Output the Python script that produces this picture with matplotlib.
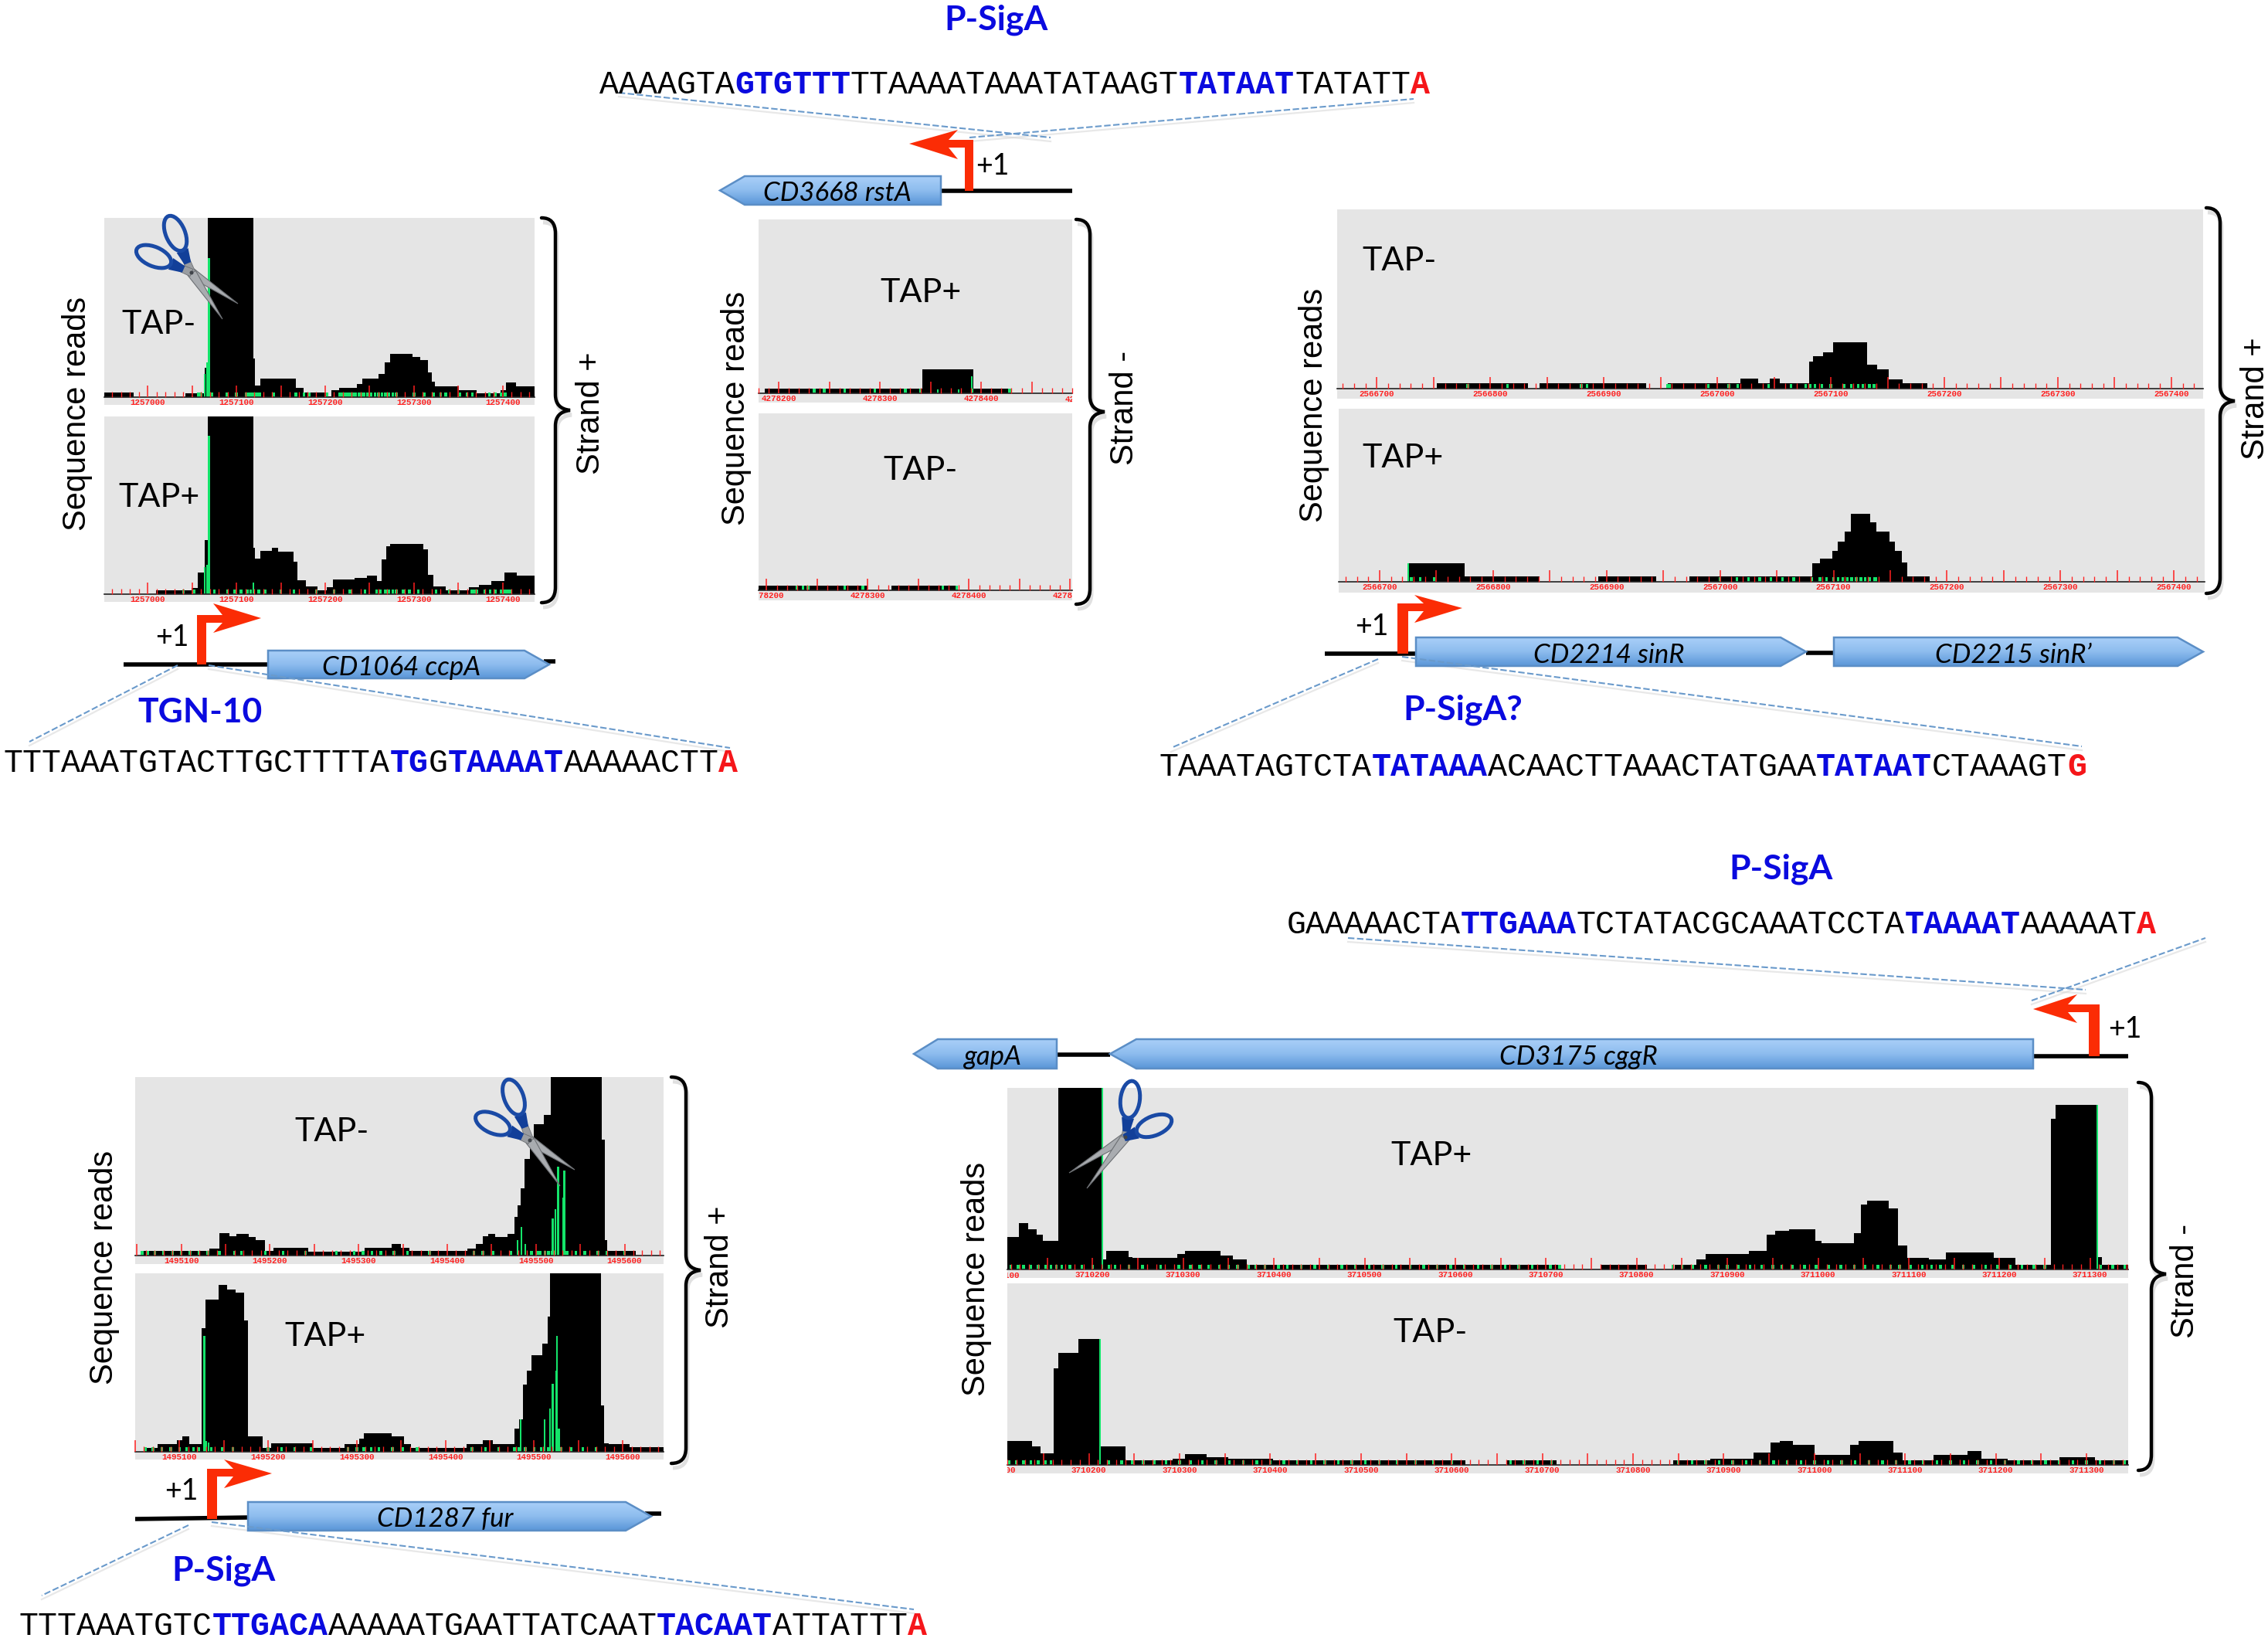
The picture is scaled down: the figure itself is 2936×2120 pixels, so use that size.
import numpy as np
import matplotlib
matplotlib.use("Agg")
import matplotlib.pyplot as plt
from matplotlib.patches import Polygon, Ellipse, PathPatch, Rectangle
from matplotlib.path import Path
from matplotlib.colors import LinearSegmentedColormap
from matplotlib.ticker import MultipleLocator, FuncFormatter
from matplotlib.transforms import Bbox

W, H = 2936, 2120
CAL = ["Lato", "DejaVu Sans"]
HEL = ["Liberation Sans", "DejaVu Sans"]
MONO = ["Liberation Mono", "DejaVu Sans Mono"]
BLUE = "#0a0adf"
RED = "#f5161a"
ARROW = "#fb2c05"
GREY = "#e5e5e5"
GREEN = "#14e46a"

# ---------- read profiles: (segment end in bp from the panel origin, reads) ----------
A_BASE = 1257000
A_XLIM = (-49, 436)
A1_PROFILE = [(-16,6),(42,0),(64,5),(68,38),(119,600),(121,50),(127,15),(167,24),(176,12),(202,6),(207,1),
              (216,9),(236,12),(242,17),(260,24),(267,30),(273,45),(298,56),(307,52),(316,48),(320,32),
              (324,20),(351,14),(371,9),(398,5),(404,9),(415,19),(436,14)]
A2_PROFILE = [(9,0),(49,5),(56,8),(64,28),(68,70),(119,600),(121,60),(127,46),(140,56),(147,60),(164,55),
              (169,42),(178,18),(191,10),(202,5),(209,9),(233,19),(247,21),(258,24),(264,17),(269,45),
              (273,62),(311,65),(316,58),(322,25),(336,10),(362,5),(373,9),(387,12),(402,17),(416,28),(436,24)]
A1_GREEN = [(64,30),(67,45),(69,180)]
A2_GREEN = [(64,35),(67,38),(69,205),(119,15)]
A1_LOW = [57,60,72,89,100,111,114,117,120,123,126,142,167,176,182,202,216,219,222,225,228,231,234,238,241,
          244,248,252,256,260,264,268,272,276,280,300,312,322,330,336,352,360,366,385,392,398,403]
A2_LOW = [40,52,75,90,98,105,112,116,125,132,150,165,190,210,228,245,258,262,268,272,276,280,288,295,305,
          325,340,350,365,368,371,380,386,392,398,402,405,408]

B_BASE_1 = 4278200
B1_XLIM = (-20, 290)
B1_PROFILE = [(-14,0),(142,6),(192,31),(228,6),(290,0)]
B1_GREEN = [(157,5),(178,5),(191,22)]
B1_LOW = [35,45,65,95,125,140,191,228]
B2_XLIM = (-8, 302)
B2_PROFILE = [(100,6),(123,0),(189,6),(302,0)]
B2_GREEN = []
B2_LOW = [30,36,41,77,95,174,188]

C_BASE = 2566700
C1_XLIM = (-35, 728)
C1_PROFILE = [(53,0),(133,7),(143,0),(237,7),(256,0),(320,7),(336,13),(346,7),(355,13),(381,7),(384,35),
              (393,42),(402,47),(432,60),(441,31),(451,25),(463,12),(485,7),(728,0)]
C1_GREEN = []
C1_LOW = [80,115,180,185,256,258,292,310,318,345,365,378,382,386,392,400,412,418,424,428,434,438]
C2_XLIM = (-36, 727)
C2_PROFILE = [(25,0),(75,24),(141,7),(193,0),(244,7),(273,0),(381,7),(388,24),(399,30),(404,40),(410,52),
              (415,65),(432,88),(438,77),(449,65),(454,52),(460,40),(465,25),(485,7),(727,0)]
C2_GREEN = [(25,24)]
C2_LOW = [28,36,48,300,315,325,335,345,355,365,381,388,394,400,404,408,412,416,420,424,428,432,436,437]

D_BASE = 1495100
D1_XLIM = (-52, 544)
D1_PROFILE = [(-46,0),(32,6),(43,9),(54,29),(62,25),(76,28),(84,24),(94,20),(104,6),(143,10),(207,5),(237,10),
              (248,15),(257,10),(323,6),(332,9),(340,15),(346,25),(354,28),(368,24),(376,28),(379,50),
              (383,65),(387,87),(393,125),(398,150),(409,170),(417,182),(474,600),(478,150),(480,20),
              (513,6),(544,0)]
D1_GREEN = [(379,20),(384,37),(388,15),(419,48),(422,60),(425,115),(431,75),(432,110)]
D1_LOW = [-44,-38,-30,-20,-10,0,10,20,30,43,60,68,95,115,140,175,195,205,215,225,240,255,280,330,340,352,
          372,395,402,405,410,414,418,435,445,455,470,480,500]
D2_XLIM = (-50, 546)
D2_PROFILE = [(-39,0),(-25,5),(-3,10),(3,15),(11,20),(25,10),(29,160),(44,197),(54,216),(63,210),(73,206),
              (77,170),(94,20),(103,5),(150,11),(186,5),(203,10),(208,17),(239,24),(253,20),(261,10),
              (324,5),(342,10),(353,15),(378,10),(383,30),(387,42),(392,87),(397,105),(409,125),(415,140),
              (418,175),(475,600),(479,60),(484,11),(508,10),(546,6)]
D2_GREEN = [(28,150),(30,14),(33,12),(385,42),(412,42),(418,56),(421,88),(425,105),(426,150),(428,30)]
D2_LOW = [-38,-30,-20,-10,0,8,16,22,36,48,60,100,115,130,148,190,200,208,216,225,240,252,268,330,345,360,
          378,383,390,400,408,416,430,442,455,470]

E_BASE = 3710200
E1_XLIM = (-94, 1142)
E1_PROFILE = [(-81,42),(-71,60),(-62,52),(-55,45),(-38,37),(11,600),(15,13),(40,24),(44,16),(93,15),(102,20),
              (141,24),(155,18),(170,13),(184,6),(517,6),(560,0),(611,6),(642,0),(666,6),(676,13),(724,20),
              (743,24),(753,45),(768,50),(797,52),(804,37),(840,34),(847,47),(854,84),(878,89),(888,79),
              (898,31),(922,15),(941,13),(994,22),(1018,15),(1057,6),(1062,195),(1107,213),(1113,16),(1142,6)]
E1_GREEN = [(11,235),(1108,213)]
E2_XLIM = (-90, 1146)
E2_PROFILE = [(-63,31),(-53,24),(-39,15),(-34,125),(-12,145),(12,163),(40,24),(92,6),(106,8),(130,14),(154,10),
              (203,8),(415,6),(460,0),(516,6),(644,0),(685,6),(733,8),(752,16),(762,29),(776,31),(800,26),
              (839,13),(849,26),(887,31),(897,16),(931,6),(969,13),(984,18),(1013,8),(1070,6),(1109,10),(1146,6)]
E2_GREEN = [(12,163)]
E1_LOW = [-90,-82,-76,-68,-60,-52,-46,-40,-34,-25,-12,0,18,25,40,55,75,95,108,118,128,140,150,160,172,180,
          190,205,215,230,245,260,275,290,305,320,335,350,365,380,395,410,425,440,455,470,485,505,515,
          640,650,662,676,690,700,712,725,738,750,760,772,785,798,812,825,840,852,866,880,890,902,915,
          925,935,948,960,972,985,998,1012,1025,1038,1050,1112,1125,1138]
E2_LOW = [-88,-80,-72,-64,-56,-48,-42,22,36,48,60,72,85,100,112,125,140,155,170,185,200,215,230,245,260,275,
          290,305,320,340,360,380,400,465,480,495,510,650,665,680,695,710,725,740,755,770,785,800,815,830,
          845,860,875,890,905,920,935,950,965,980,995,1010,1025,1040,1055,1070,1085,1100,1115,1130,1142]

# ---------- sequences ----------
SEQ_A = [("TTTAAATGTACTTGCTTTTA","k"),("TG","b"),("G","k"),("TAAAAT","b"),("AAAAACTT","k"),("A","r")]
SEQ_B = [("AAAAGTA","k"),("GTGTTT","b"),("TTAAAATAAATATAAGT","k"),("TATAAT","b"),("TATATT","k"),("A","r")]
SEQ_C = [("TAAATAGTCTA","k"),("TATAAA","b"),("ACAACTTAAACTATGAA","k"),("TATAAT","b"),("CTAAAGT","k"),("G","r")]
SEQ_D = [("TTTAAATGTC","k"),("TTGACA","b"),("AAAAATGAATTATCAAT","k"),("TACAAT","b"),("ATTATTT","k"),("A","r")]
SEQ_E = [("GAAAAACTA","k"),("TTGAAA","b"),("TCTATACGCAAATCCTA","k"),("TAAAAT","b"),("AAAAAT","k"),("A","r")]

fig = plt.figure(figsize=(W/100, H/100), dpi=100, facecolor="white")


def overlay(z):
    ax = fig.add_axes([0, 0, 1, 1], zorder=z)
    ax.set_xlim(0, W); ax.set_ylim(H, 0); ax.axis("off"); ax.patch.set_alpha(0)
    return ax


bg = overlay(0)
fg = overlay(5)


def panel(x0, x1, top, bottom, base, origin, xlim, profile, green, low, edge_labels=()):
    bg.add_patch(Rectangle((x0, top), x1-x0, bottom-top, fc=GREY, ec="none"))
    ax = fig.add_axes([x0/W, 1-base/H, (x1-x0)/W, (base-top)/H], zorder=2)
    ax.patch.set_alpha(0)
    lo, hi = origin+xlim[0], origin+xlim[1]
    edges = [lo] + [origin+e for e, _ in profile]
    reads = [r for _, r in profile]
    ax.stairs(reads, edges, fill=True, color="black", zorder=2, lw=0)
    bp_per_px = (hi-lo)/(x1-x0)
    if low:
        ax.bar([origin+p for p in low], [6]*len(low), width=bp_per_px*3.4, color=GREEN, zorder=2.2, lw=0)
    if green:
        ax.bar([origin+p for p, _ in green], [h for _, h in green], width=bp_per_px*2.2,
               color=GREEN, zorder=2.3, lw=0)
    ax.set_xlim(lo, hi)
    ax.set_ylim(0, base-top)
    ax.set_yticks([])
    for s in ("top", "left", "right"):
        ax.spines[s].set_visible(False)
    ax.spines["bottom"].set_linewidth(1.2)
    ax.spines["bottom"].set_color("#222222")
    ax.xaxis.set_major_locator(MultipleLocator(50))
    ax.xaxis.set_minor_locator(MultipleLocator(10))
    ax.xaxis.set_major_formatter(FuncFormatter(lambda v, _: f"{int(round(v))}" if int(round(v)) % 100 == 0 else ""))
    ax.tick_params(axis="x", which="major", direction="in", length=10.5, width=1.1, color="#ff2020",
                   labelcolor="#ff2020", labelsize=7.8, pad=1.5)
    ax.tick_params(axis="x", which="minor", direction="in", length=5, width=0.95, color="#ff2020")
    ax.set_axisbelow(False)
    clip = Bbox([[x0, H-bottom], [x1, H-top]])
    for lab in ax.get_xticklabels():
        lab.set_family(MONO)
        lab.set_fontweight("bold")
        lab.set_clip_box(clip)
        lab.set_clip_on(True)
    for t in edge_labels:
        txt = ax.text(t, -2.5/(base-top), str(t), transform=ax.get_xaxis_transform(), color="#ff2020", fontsize=7.8,
                      family=MONO, fontweight="bold", ha="center", va="top", clip_on=True)
        txt.set_clip_box(clip)
    return ax


panel(135, 692, 282, 524, 514, A_BASE, A_XLIM, A1_PROFILE, A1_GREEN, A1_LOW)
panel(135, 692, 539, 779, 769, A_BASE, A_XLIM, A2_PROFILE, A2_GREEN, A2_LOW)
panel(982, 1388, 284, 521, 509, B_BASE_1, B1_XLIM, B1_PROFILE, B1_GREEN, B1_LOW, edge_labels=(4278500,))
panel(982, 1388, 535, 777, 764, B_BASE_1, B2_XLIM, B2_PROFILE, B2_GREEN, B2_LOW)
panel(1731, 2852, 271, 516, 503, C_BASE, C1_XLIM, C1_PROFILE, C1_GREEN, C1_LOW)
panel(1733, 2854, 529, 767, 753, C_BASE, C2_XLIM, C2_PROFILE, C2_GREEN, C2_LOW)
panel(175, 859, 1394, 1636, 1625, D_BASE, D1_XLIM, D1_PROFILE, D1_GREEN, D1_LOW)
panel(175, 859, 1648, 1889, 1879, D_BASE, D2_XLIM, D2_PROFILE, D2_GREEN, D2_LOW)
panel(1304, 2755, 1408, 1654, 1643, E_BASE, E1_XLIM, E1_PROFILE, E1_GREEN, E1_LOW, edge_labels=(3710100,))
panel(1304, 2755, 1661, 1907, 1896, E_BASE, E2_XLIM, E2_PROFILE, E2_GREEN, E2_LOW, edge_labels=(3710100,))

GRAD = LinearSegmentedColormap.from_list("gene", ["#a9cff8", "#8dbcee", "#5a96d8"])


def line(a, b, lw=4.0):
    fg.plot([a[0], b[0]], [a[1], b[1]], color="black", lw=lw, solid_capstyle="butt", zorder=1)


def gene(x_start, x_end, shoulder, y0, y1, label, lx, size=25):
    ym = (y0+y1)/2
    pts = [(x_start, y0), (shoulder, y0), (x_end, ym), (shoulder, y1), (x_start, y1)]
    poly = Polygon(pts, closed=True, fc="none", ec="#5b8ec6", lw=1.8, zorder=3)
    fg.add_patch(poly)
    xs = sorted((x_start, x_end))
    im = fg.imshow(np.linspace(0, 1, 64)[:, None], extent=(xs[0], xs[1], y1, y0), aspect="auto", cmap=GRAD, zorder=2.5)
    im.set_clip_path(poly)
    fg.set_xlim(0, W); fg.set_ylim(H, 0)
    fg.text(lx, ym+4, label, family=CAL, style="italic", fontsize=size, ha="center", va="center", color="black", zorder=4)


def tss(x0, x1, yb, yt, tip, ym, hb, yh0, yh1, d=1):
    t = 10
    n = hb + d*12
    pts = [(x0, yb), (x0, yt), (n, yt), (hb, yh0), (tip, ym), (hb, yh1), (n, yt+t), (x1, yt+t), (x1, yb)]
    fg.add_patch(Polygon(pts, closed=True, fc=ARROW, ec="none", zorder=4))


def dash(a, b):
    fg.plot([a[0], b[0]], [a[1]+5, b[1]+5], color="#d9d9d9", lw=1.6, alpha=0.6, zorder=0.9)
    fg.plot([a[0], b[0]], [a[1], b[1]], color="#6a9acb", lw=1.5, ls=(0, (4, 1.6)), zorder=6)


def brace(left, mid, tip, top, bottom, ymid):
    c = 20
    v = [(left, top), (mid, top), (mid, top+c), (mid, ymid-c), (mid, ymid-2), (tip, ymid),
         (mid, ymid+2), (mid, ymid+c), (mid, bottom-c), (mid, bottom), (left, bottom)]
    k = [Path.MOVETO, Path.CURVE3, Path.CURVE3, Path.LINETO, Path.CURVE3, Path.CURVE3, Path.CURVE3, Path.CURVE3,
         Path.LINETO, Path.CURVE3, Path.CURVE3]
    vs = [(x+2, y+6) for x, y in v]
    fg.add_patch(PathPatch(Path(vs, k), fc="none", ec="#cccccc", lw=3.5, alpha=0.6, zorder=1))
    fg.add_patch(PathPatch(Path(v, k), fc="none", ec="black", lw=3.2, capstyle="round", zorder=2))


def scissors(pivot, h1, h2, t1, t2):
    pivot = np.array(pivot, float)
    for tip in (t1, t2):
        tip = np.array(tip, float)
        u = (tip-pivot)/np.linalg.norm(tip-pivot)
        n = np.array([-u[1], u[0]])
        fg.add_patch(Polygon([pivot+n*6, pivot-n*6, tip], closed=True, fc="#a9acb0", ec="#6d7074", lw=0.8, zorder=7))
    for handle in (h1, h2):
        handle = np.array(handle, float)
        u = (handle-pivot)/np.linalg.norm(handle-pivot)
        n = np.array([-u[1], u[0]])
        L = np.linalg.norm(handle-pivot)
        neck = pivot+u*(L-23)
        fg.add_patch(Polygon([pivot+n*5, pivot-n*5, neck-n*4, neck+n*4], closed=True, fc="#9a9da1", ec="#6d7074", lw=0.6, zorder=7))
        mid = pivot+u*(L-24)
        a = pivot+u*(L-42)
        fg.add_patch(Polygon([a+n*4.5, a-n*4.5, mid-n*8, mid+n*8], closed=True, fc="#123f99", ec="none", zorder=7.2))
        ang = np.degrees(np.arctan2(u[1], u[0]))
        fg.add_patch(Ellipse(handle, 48, 25, angle=ang, fc="none", ec="#1a4aa5", lw=3.6, zorder=7.3))
    fg.add_patch(Ellipse(pivot, 5, 5, fc="#40444a", ec="none", zorder=7.5))


def seq(runs, x0, y, cw=25.0):
    i = 0
    for txt, c in runs:
        col = {"k": "black", "b": BLUE, "r": RED}[c]
        fw = "normal" if c == "k" else "bold"
        fg.text(x0+i*cw, y+3, txt, family=MONO, fontsize=cw/0.6/100*72, color=col, fontweight=fw,
                ha="left", va="center", zorder=8)
        i += len(txt)


def label(x, y, s, size=31, color="black", weight="normal", family=CAL, rot=0):
    if rot:
        x += 4
    else:
        y += 3
    fg.text(x, y, s, fontsize=size, color=color, fontweight=weight, family=family, rotation=rot,
            ha="center", va="center", zorder=8)


# --- A
line((160, 860), (347, 860)); line((704, 856), (719, 856))
gene(347, 711, 679, 842, 878, "CD1064 ccpA", 520)
tss(255, 267, 860, 796, 338, 800, 276, 781, 819)
dash((230, 861), (38, 960)); dash((270, 861), (945, 968))
brace(701, 719, 738, 282, 780, 531)
scissors((248, 353), (227, 302), (199, 332), (308, 393), (288, 413))
label(223, 822, "+1", 27)
label(259, 919, "TGN-10", 32, BLUE, "bold")
seq(SEQ_A, 5, 985)
label(206, 417, "TAP-"); label(206, 641, "TAP+")
label(96, 535, "Sequence reads", 30, family=HEL, rot=90)
label(761, 535, "Strand +", 30, family=HEL, rot=90)

# --- B
line((1218, 247), (1388, 247))
gene(1218, 932, 964, 228, 265, "CD3668 rstA", 1084)
tss(1260, 1249, 247, 181, 1177, 186, 1240, 168, 206, d=-1)
dash((801, 120), (1360, 178)); dash((1255, 178), (1830, 128))
brace(1393, 1411, 1430, 284, 782, 533)
label(1285, 212, "+1", 27)
label(1290, 23, "P-SigA", 32, BLUE, "bold")
seq(SEQ_B, 776, 107)
label(1192, 376, "TAP+"); label(1192, 606, "TAP-")
label(949, 528, "Sequence reads", 30, family=HEL, rot=90)
label(1452, 528, "Strand -", 30, family=HEL, rot=90)

# --- C
line((1715, 846), (1833, 846)); line((2338, 845), (2374, 845))
gene(1833, 2338, 2305, 825, 862, "CD2214 sinR", 2083)
gene(2374, 2852, 2819, 825, 862, "CD2215 sinR\u2019", 2606)
tss(1809, 1823, 846, 781, 1893, 787, 1831, 770, 806)
dash((1784, 853), (1516, 968)); dash((1815, 850), (2695, 966))
brace(2856, 2874, 2893, 269, 768, 519)
label(1776, 808, "+1", 27)
label(1894, 916, "P-SigA?", 32, BLUE, "bold")
seq(SEQ_C, 1501, 990, cw=25.0)
label(1812, 335, "TAP-"); label(1816, 590, "TAP+")
label(1697, 524, "Sequence reads", 30, family=HEL, rot=90)
label(2916, 516, "Strand +", 30, family=HEL, rot=90)

# --- D
line((175, 1966), (321, 1964)); line((835, 1959), (856, 1959))
gene(321, 843, 810, 1944, 1981, "CD1287 fur", 576)
tss(268, 281, 1966, 1901, 352, 1907, 290, 1889, 1926)
dash((244, 1974), (54, 2065)); dash((274, 1970), (1183, 2083))
brace(869, 888, 907, 1394, 1894, 1644)
scissors((686, 1476), (665, 1420), (638, 1454), (744, 1514), (725, 1535))
label(235, 1927, "+1", 27)
label(290, 2030, "P-SigA", 32, BLUE, "bold")
seq(SEQ_D, 25, 2102)
label(429, 1462, "TAP-"); label(421, 1727, "TAP+")
label(131, 1640, "Sequence reads", 30, family=HEL, rot=90)
label(928, 1640, "Strand +", 30, family=HEL, rot=90)

# --- E
line((2632, 1367), (2755, 1367)); line((1368, 1365), (1437, 1365))
gene(2632, 1437, 1471, 1345, 1383, "CD3175 cggR", 2043)
gene(1368, 1183, 1214, 1345, 1383, "gapA", 1285)
tss(2718, 2704, 1367, 1300, 2632, 1306, 2689, 1287, 1324, d=-1)
dash((1745, 1214), (2700, 1281)); dash((2630, 1295), (2855, 1214))
brace(2768, 2785, 2804, 1401, 1903, 1649)
scissors((1457, 1472), (1463, 1423), (1494, 1457), (1384, 1518), (1407, 1538))
label(2751, 1329, "+1", 27)
label(2306, 1122, "P-SigA", 32, BLUE, "bold")
seq(SEQ_E, 1666, 1194)
label(1853, 1493, "TAP+"); label(1851, 1722, "TAP-")
label(1260, 1655, "Sequence reads", 30, family=HEL, rot=90)
label(2825, 1658, "Strand -", 30, family=HEL, rot=90)

fig.savefig("out.png", dpi=100, facecolor="white")
